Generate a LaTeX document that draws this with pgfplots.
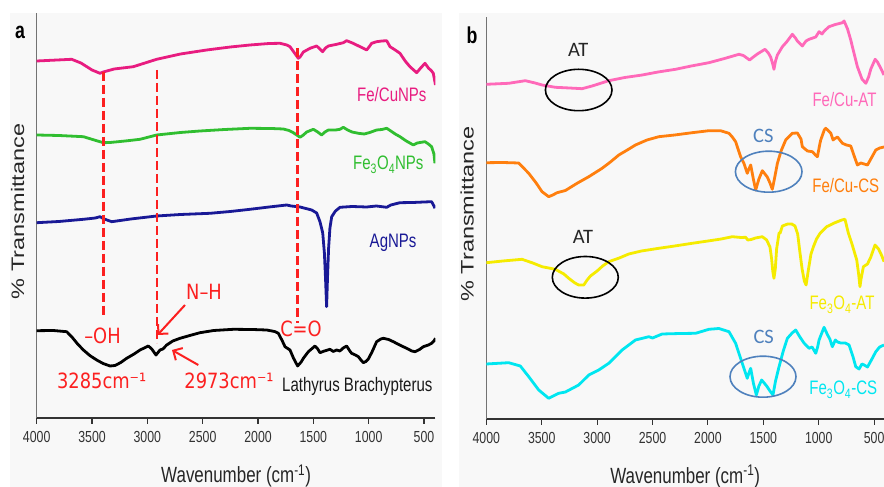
\documentclass[border=0pt]{standalone}
\usepackage{fontspec}
\setmainfont{Liberation Sans}[FakeStretch=0.77]
\newfontfamily\ylabfont{Liberation Sans}
\newfontfamily\annofont{DejaVu Sans}[FakeStretch=0.85]
\newfontfamily\calfont{Carlito}
\usepackage{pgfplots}
\pgfplotsset{compat=1.18}
\usetikzlibrary{arrows.meta}
\definecolor{pinkA}{RGB}{232,28,128}
\definecolor{greenA}{RGB}{48,190,48}
\definecolor{navyA}{RGB}{25,25,150}
\definecolor{redA}{RGB}{252,32,32}
\definecolor{pinkB}{RGB}{255,105,185}
\definecolor{orangeB}{RGB}{255,127,14}
\definecolor{yellowB}{RGB}{245,235,0}
\definecolor{cyanB}{RGB}{0,230,240}
\definecolor{blueB}{RGB}{79,129,189}
\definecolor{bgG}{RGB}{248,248,248}
\pgfplotsset{ftir/.style={
  scale only axis, x dir=reverse, enlargelimits=false,
  axis x line*=bottom, axis y line*=left,
  xtick={500,1000,1500,2000,2500,3000,3500,4000},
  xticklabels={500,1000,1500,2000,2500,3000,3500,4000},
  ytick=\empty,
  tick align=outside, major tick length=6pt,
  xtick style={black!80, line width=1.1pt},
  x axis line style={black!80, line width=1.2pt},
  y axis line style={black!55, line width=1.2pt},
  xticklabel style={font=\fontsize{16}{19}\selectfont, text=black!80, yshift=-4pt},
  xlabel={Wavenumber (cm\textsuperscript{-1})},
  xlabel style={font=\fontsize{22}{26}\selectfont, text=black!85, at={(axis description cs:0.5,-0.143)}, anchor=center},
  ylabel={\% Transmittance},
  every axis y label/.style={at={(axis description cs:-0.048,0.51)}, rotate=90, yscale=0.77, anchor=center, font=\ylabfont\fontsize{23.5}{26}\selectfont, text=black!85},
  every axis plot/.append style={line width=2.8pt, line join=round},
}}
\begin{document}
\begin{tikzpicture}[x=1pt,y=1pt]
\path[use as bounding box] (0,0) rectangle (884,487);
\fill[bgG] (10,0) rectangle (442,474);
\fill[bgG] (459,0) rectangle (884,474);
% ---------------- panel a ----------------
\begin{axis}[ftir, at={(36.7pt,69pt)}, anchor=south west, width=398.8pt, height=405pt,
  xmin=396, xmax=4000, ymin=0, ymax=405]
\addplot[pinkA] table {
x y
4000 357
3684 358.7
3600 355
3500 348
3428 344.7
3398 346
3300 349
3127 351.3
2916 358.7
2700 364
2464 368
2250 371
2072 373
1900 374.5
1801 374.7
1740 373
1711 371.3
1670 365
1636 359.7
1620 361
1590 366
1530 369.7
1470 372
1440 369
1416 366.3
1390 370
1364 372
1289 373.7
1229 375.3
1199 377.3
1140 374.7
1078 371.3
1018 368
990 372
973 374.7
928 376.3
880 377
837 377.3
807 371.3
760 368
717 364.7
670 357
627 351.3
566 345.3
530 350
491 354.7
460 350
431 347
416 344.7
396 333
};
\addplot[greenA] table {
x y
4000 283
3800 282.5
3578 281.3
3480 278
3398 275.3
3337 275.5
3200 277
3066 278.7
2916 283
2700 285.5
2524 287
2300 288.5
2072 289.7
1880 289.5
1771 289
1720 287.5
1681 285.3
1620 280.7
1590 283
1560 286
1500 288.7
1460 286
1425 283
1395 286
1364 288
1300 288
1259 288.7
1229 290.7
1190 288
1150 286
1093 284.7
1040 284
990 285.5
928 288
880 288.5
837 289.7
800 287
760 284
717 281.3
660 277
596 273
560 275
536 275.5
491 276.3
460 274
431 271.3
410 264
401 254.7
};
\addplot[navyA] table {
x y
4000 195.3
3800 196.5
3578 198.7
3470 200
3428 201.3
3390 199
3322 196.3
3150 199
2916 202
2700 203.5
2434 204.7
2250 206.5
2072 208.7
1900 211
1741 213
1700 212
1620 211
1515 208
1470 205
1440 196.3
1415 185
1400 165
1390 140
1380 111.3
1372 140
1362 170
1350 190
1334 201.3
1300 207
1259 210.7
1150 211.5
1018 211
930 212
837 210.7
800 213
717 215.3
600 215.5
500 216
431 216.3
410 212
401 209.7
};
\addplot[black] table {
x y
4000 87.3
3850 87.5
3729 86.3
3684 81.3
3630 74
3578 68
3520 62.5
3458 58
3400 54.5
3337 52
3292 52.5
3240 55.5
3187 59.7
3120 64
3066 68
2991 72
2960 69
2922 63
2900 66
2886 68
2860 69
2825 73
2770 77
2705 79.7
2600 83
2524 85.3
2400 87.5
2223 88.7
2050 88.5
1922 88
1850 86.5
1816 84.7
1780 77
1756 71.3
1711 68
1680 60
1642 52
1610 56
1590 59.7
1545 66.3
1485 72
1460 69
1440 65.3
1400 67
1349 68.7
1320 66.5
1290 68
1260 67
1230 70
1199 72
1170 67
1154 64.7
1120 63
1093 61.3
1070 58
1048 55.3
1025 56.5
1003 59
970 66
928 76.3
890 79
867 79.7
820 78.5
777 76.3
720 73
657 69.7
610 67
581 66.3
540 68.5
506 71.3
460 73
431 74.7
410 77
396 79.7
};
\end{axis}
% ---------------- panel b ----------------
\begin{axis}[ftir, at={(486.3pt,68pt)}, anchor=south west, width=397.7pt, height=402pt,
  xmin=411, xmax=4000, ymin=0, ymax=402]
\addplot[pinkB] table {
x y
4000 334.7
3798 335.7
3648 338.3
3560 336
3497 334
3377 331.7
3250 331
3136 330.3
3045 333
2895 338.3
2750 341.5
2593 344
2450 347
2292 349.7
2150 353
1991 356.3
1850 360.5
1720 364.7
1680 363.5
1624 359
1590 362
1554 365
1485 369.7
1455 366
1434 362
1415 355
1404 349.7
1390 358
1373 364
1328 372.3
1290 377
1238 384.7
1210 381
1193 378
1148 373
1115 378
1087 379.7
1027 382
997 387.3
970 385
950 388
907 392.3
850 394.5
786 396.3
771 398
740 390
711 379
680 365
651 352.3
610 340
575 335.7
550 342
530 350
491 359.7
470 357
440 350.7
411 344
};
\addplot[orangeB] table {
x y
4000 256.3
3850 256.5
3708 256
3617 245.7
3550 236
3497 227.3
3437 222.3
3400 224
3361 226.3
3286 228.5
3181 235.7
3075 242.3
2955 250.7
2880 257
2804 264
2720 269.5
2654 274
2550 279
2443 282.3
2300 284
2142 286.3
1991 288.3
1886 288.3
1810 285.7
1780 282
1750 277.3
1705 262.3
1675 255.7
1645 245.7
1630 250
1614 254
1590 240
1569 229
1540 240
1509 248.3
1464 242
1440 236
1419 229.7
1400 240
1373 255.7
1340 268
1298 279
1238 285.7
1193 286
1160 280
1148 272.3
1102 268
1057 267.3
1030 264
1012 262.3
990 275
982 279
950 289
937 290.7
910 288
892 286
870 279
860 280
831 282
786 275.7
750 274
711 273
680 263
651 254
620 256
590 255
560 254
520 262
485 269
450 271
411 272
};
\addplot[yellowB] table {
x y
4000 156.3
3850 158
3678 159.7
3580 156
3497 152.3
3377 149.7
3300 145
3256 140.7
3200 136
3166 134
3120 134
3090 139
3060 143
3000 148
2950 153
2895 157.3
2800 161
2714 165
2600 168
2443 170.7
2300 173
2142 175.7
2000 178
1880 180
1780 182.3
1700 181.5
1660 181.7
1640 179
1610 179.5
1570 181
1509 182.3
1470 179
1440 172
1425 160
1415 148
1404 140.7
1392 150
1380 170
1358 186
1349 185.7
1328 193
1280 195
1244 195
1214 193
1190 185
1169 166
1150 150
1130 138
1114 134
1095 148
1070 165
1048 172.3
1020 180
988 185.7
928 192.3
860 196
792 199
763 199.7
733 186
700 175
657 159
640 145
628 132.3
618 140
597 152.3
560 155
530 162
492 174
460 170
430 163
411 157.3
};
\addplot[cyanB] table {
x y
4000 55
3798 56.3
3693 53
3617 42.3
3527 29
3437 20.7
3346 25.7
3286 27
3166 34
3075 44
2985 49
2895 55.7
2774 69
2654 79
2533 82.3
2500 81
2413 85
2250 85.5
2111 85.7
1991 89.7
1901 90.5
1810 87.3
1750 75.7
1690 55.7
1645 40.7
1630 46
1614 50.7
1590 36
1563 24
1540 33
1515 39
1470 33
1440 28
1413 24
1390 38
1358 52.3
1320 68
1283 80.7
1240 86
1208 89
1170 82
1133 76
1087 70.7
1060 72
1027 65.7
1010 72
997 79
952 91.7
920 84
900 80
877 72.3
850 79
830 77
801 76
760 76
726 74
690 62
666 52.3
636 50
610 55
590 54
560 52
520 60
485 67.3
450 72
411 74
};
\end{axis}
% ---------------- annotations panel a ----------------
\node[font=\bfseries\fontsize{23}{26}\selectfont] at (20,455) {a};
\begin{scope}[font=\fontsize{19.5}{22}\selectfont]
\node[anchor=base east, text=pinkA] at (430,385.3) {Fe/CuNPs};
\node[anchor=base east, text=greenA] at (427,317) {Fe\textsubscript{3}O\textsubscript{4}NPs};
\node[anchor=base east, text=navyA] at (420,239.7) {AgNPs};
\node[anchor=base east, text=black!90] at (436,95.3) {Lathyrus Brachypterus};
\node[anchor=base east, text=pinkB] at (880,380.3) {Fe/Cu-AT};
\node[anchor=base east, text=orangeB] at (882.7,294.3) {Fe/Cu-CS};
\node[anchor=base east, text=yellowB] at (878,177) {Fe\textsubscript{3}O\textsubscript{4}-AT};
\node[anchor=base east, text=cyanB] at (880.7,92) {Fe\textsubscript{3}O\textsubscript{4}-CS};
\end{scope}
\begin{scope}[redA, line width=2.6pt, dash pattern=on 9pt off 4pt]
\draw (103.5,415.3) -- (103.5,170.3);
\draw (157,417) -- (157,144);
\draw (297.5,438.7) -- (297.5,163.7);
\end{scope}
\begin{scope}[font=\annofont\fontsize{21}{24}\selectfont, text=redA]
\node[anchor=base] at (102.5,143) {–OH};
\node[anchor=base] at (101.7,98.7) {3285cm⁻¹};
\node[anchor=base] at (204,187) {N–H};
\node[anchor=base] at (229,98.7) {2973cm⁻¹};
\node[anchor=base] at (301,150.3) {C=O};
\end{scope}
\draw[redA, line width=2pt, -{Straight Barb[length=7pt,width=14pt]}] (185,182) -- (157.5,152);
\draw[redA, line width=2pt, -{Straight Barb[length=7pt,width=14pt]}] (198.3,122) -- (172,137);
% ---------------- annotations panel b ----------------
\node[font=\bfseries\fontsize{23}{26}\selectfont] at (472,452) {b};
\draw[black, line width=1.6pt] (578.7,397) ellipse [x radius=33.3, y radius=20.7];
\draw[black, line width=1.6pt] (585.3,209.7) ellipse [x radius=33, y radius=20.8];
\draw[blueB, line width=1.6pt] (768.7,315.3) ellipse [x radius=33.3, y radius=20.5];
\draw[blueB, line width=1.6pt] (763,110.3) ellipse [x radius=33, y radius=20.5];
\begin{scope}[font=\calfont\fontsize{20.5}{24}\selectfont]
\node[text=black!85] at (578.3,437) {AT};
\node[text=black!85] at (583,250.5) {AT};
\node[text=blueB] at (763.3,351) {CS};
\node[text=blueB] at (763.7,150.3) {CS};
\end{scope}
\end{tikzpicture}
\end{document}
